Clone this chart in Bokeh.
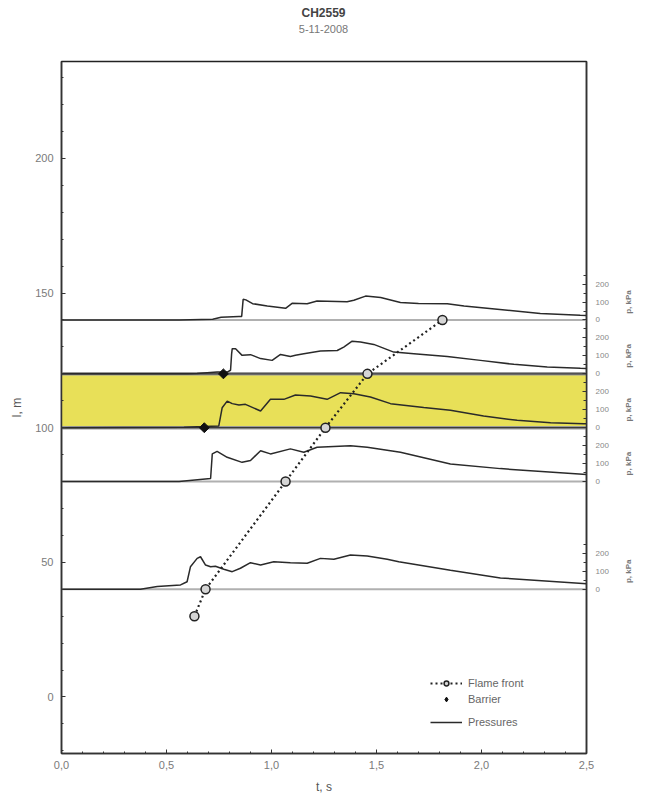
import math
from bokeh.plotting import figure
from bokeh.models import (Range1d, LinearAxis, FixedTicker, CustomJSTickFormatter,
                          Legend, LegendItem)
from bokeh.layouts import column, row
from bokeh.core.properties import value
from bokeh.embed import file_html
from bokeh.resources import INLINE

# ---------------- data ----------------
TITLE = "CH2559"
SUBTITLE = "5-11-2008"

# flame front arrival (t, s ; l, m)
FLAME_T = [0.633, 0.686, 1.067, 1.257, 1.457, 1.814]
FLAME_L = [30, 40, 80, 100, 120, 140]

# barriers
BARRIER_T = [0.68, 0.771]
BARRIER_L = [100, 120]

# yellow barrier zone (m)
ZONE_BOTTOM = 100
ZONE_TOP = 120

# pressure gauge positions (m) and pressure scale (m per kPa)
BASES = [40, 80, 100, 120, 140]
P_SCALE = 1 / 15.0
P_TICKS = [0, 100, 200]
P_MINOR = [50, 150, 250]
P_LABEL = "p, kPa"

# pressure traces, kPa
P40_T = [0, 0.376, 0.456, 0.567, 0.598, 0.614, 0.646, 0.662, 0.686, 0.71, 0.733, 0.773,
         0.813, 0.852, 0.9, 0.948, 1.011, 1.09, 1.17, 1.233, 1.297, 1.376, 1.456, 1.551,
         1.606, 1.852, 2.09, 2.5]
P40_P = [0, 0, 15, 24, 42, 125, 172, 181, 135, 125, 128, 111, 98, 117, 148, 135, 153, 148,
         145, 172, 167, 191, 185, 167, 153, 106, 63, 30]

P80_T = [0, 0.56, 0.71, 0.718, 0.741, 0.789, 0.86, 0.9, 0.948, 0.995, 1.09, 1.154, 1.217,
         1.376, 1.456, 1.614, 1.852, 2.09, 2.5]
P80_P = [0, 0, 17, 154, 168, 135, 107, 117, 172, 154, 182, 163, 191, 200, 191, 163, 98, 72, 39]

P100_T = [0, 0.583, 0.678, 0.749, 0.757, 0.765, 0.789, 0.813, 0.845, 0.876, 0.948, 0.995,
          1.059, 1.114, 1.186, 1.265, 1.329, 1.392, 1.471, 1.567, 1.725, 1.852, 2.01, 2.17,
          2.329, 2.487, 2.5]
P100_P = [0, 2, 6, 10, 60, 111, 148, 134, 126, 130, 93, 158, 158, 182, 176, 158, 195, 189,
          171, 134, 112, 97, 65, 41, 28, 22, 22]

P120_T = [0, 0.60, 0.646, 0.741, 0.789, 0.805, 0.81, 0.813, 0.829, 0.86, 0.9, 0.948, 1.003,
          1.043, 1.09, 1.114, 1.154, 1.233, 1.313, 1.344, 1.384, 1.424, 1.487, 1.582, 1.678,
          1.837, 1.995, 2.154, 2.313, 2.471, 2.5]
P120_P = [0, 0, 2, 10, 10, 20, 110, 140, 140, 103, 107, 85, 75, 108, 97, 103, 112, 127, 130,
          149, 182, 177, 164, 121, 112, 97, 75, 53, 38, 31, 30]

P140_T = [0, 0.56, 0.72, 0.76, 0.845, 0.858, 0.865, 0.878, 0.91, 0.98, 1.067, 1.098, 1.17,
          1.217, 1.36, 1.392, 1.448, 1.52, 1.614, 1.70, 1.837, 1.917, 2.075, 2.28, 2.47, 2.5]
P140_P = [0, 0, 4, 15, 20, 20, 115, 112, 91, 78, 65, 93, 91, 106, 102, 110, 133, 125, 97,
          92, 91, 78, 60, 36, 26, 25]

TRACES = [(40, P40_T, P40_P), (80, P80_T, P80_P), (100, P100_T, P100_P),
          (120, P120_T, P120_P), (140, P140_T, P140_P)]

X_MAJOR = [0, 0.5, 1.0, 1.5, 2.0, 2.5]
Y_MAJOR = [0, 50, 100, 150, 200]

FONT = "Liberation Sans"
TXT = "#7a7a7a"

# ---------------- layout geometry ----------------
TITLE_H = 36
MAIN_W, MAIN_H = 622, 761
SIDE_W = 16
BORDER_L, BORDER_R, BORDER_T, BORDER_B = 61, 36, 25, 44

# ---------------- title strip ----------------
tp = figure(width=MAIN_W + SIDE_W, height=TITLE_H, output_backend="svg",
            toolbar_location=None, x_range=Range1d(0, MAIN_W + SIDE_W),
            y_range=Range1d(TITLE_H, 0), x_axis_type=None, y_axis_type=None,
            min_border=0, outline_line_color=None)
tp.grid.visible = False
tp.text(x=[323], y=[12], text=[TITLE], text_align="center", text_baseline="middle",
        text_font=value(FONT), text_font_size="12px", text_font_style="bold",
        text_color="#444444")
tp.text(x=[323], y=[28], text=[SUBTITLE], text_align="center", text_baseline="middle",
        text_font=value(FONT), text_font_size="11px", text_color="#777777")

# ---------------- main figure ----------------
p = figure(width=MAIN_W, height=MAIN_H, output_backend="svg", toolbar_location=None,
           x_range=Range1d(0, 2.5), y_range=Range1d(-21, 236),
           min_border_left=BORDER_L, min_border_right=BORDER_R,
           min_border_top=BORDER_T, min_border_bottom=BORDER_B,
           x_axis_label="t, s", y_axis_label="l, m")
p.grid.visible = False
p.outline_line_color = "#222222"
p.outline_line_width = 1.5

for ax in (p.xaxis[0], p.yaxis[0]):
    ax.axis_line_color = "#333333"
    ax.axis_line_width = 1.5
    ax.major_tick_in = 4
    ax.major_tick_out = 0
    ax.minor_tick_in = 2
    ax.minor_tick_out = 0
    ax.major_tick_line_color = "#333333"
    ax.minor_tick_line_color = "#333333"
    ax.major_label_text_font = FONT
    ax.major_label_text_font_size = "11px"
    ax.major_label_text_color = TXT
    ax.axis_label_text_font = FONT
    ax.axis_label_text_font_size = "12px"
    ax.axis_label_text_color = "#555555"
    ax.axis_label_text_font_style = "normal"

p.xaxis[0].ticker = FixedTicker(ticks=X_MAJOR,
                                minor_ticks=[round(i * 0.1, 1) for i in range(26)])
p.xaxis[0].formatter = CustomJSTickFormatter(code="return tick.toFixed(1).replace('.', ',');")
p.xaxis[0].major_label_standoff = 7
p.xaxis[0].axis_label_standoff = 8

p.yaxis[0].ticker = FixedTicker(ticks=Y_MAJOR, minor_ticks=list(range(-20, 236, 10)))
p.yaxis[0].major_label_standoff = 8
p.yaxis[0].axis_label_standoff = 8

# right pressure axis
r_major = []
r_minor = []
for b in BASES:
    r_major += [b + v * P_SCALE for v in P_TICKS]
    r_minor += [b + v * P_SCALE for v in P_MINOR]
raxis = LinearAxis(ticker=FixedTicker(ticks=r_major, minor_ticks=r_minor))
raxis.formatter = CustomJSTickFormatter(code="""
const bases = %s; const sc = %r;
for (const b of bases) {
  const v = Math.round((tick - b) / sc);
  if (Math.abs(b + v * sc - tick) < 1e-6 && (v == 0 || v == 100 || v == 200)) return String(v);
}
return "";
""" % (str(BASES), P_SCALE))
raxis.axis_line_color = "#333333"
raxis.axis_line_width = 1.5
raxis.major_tick_in = 4
raxis.major_tick_out = 0
raxis.minor_tick_in = 3
raxis.minor_tick_out = 0
raxis.major_tick_line_color = "#333333"
raxis.minor_tick_line_color = "#333333"
raxis.major_label_text_font = FONT
raxis.major_label_text_font_size = "8px"
raxis.major_label_text_color = "#888888"
raxis.major_label_standoff = 9
p.add_layout(raxis, "right")

# yellow barrier zone
p.quad(left=0, right=2.5, bottom=ZONE_BOTTOM, top=ZONE_TOP,
       fill_color="#E8E058", line_color=None)

# baselines
for b in BASES:
    if b in (ZONE_BOTTOM, ZONE_TOP):
        p.line([0, 2.5], [b, b], line_color="#9a9a9a", line_width=3.5)
        p.line([0, 2.5], [b, b], line_color="#3a3a3a", line_width=1.3)
    else:
        p.line([0, 2.5], [b, b], line_color="#b0b0b0", line_width=2)

# pressure traces
press_renderers = []
for b, ts, ps in TRACES:
    r = p.line(ts, [b + v * P_SCALE for v in ps], line_color="#2a2a2a", line_width=1.5)
    press_renderers.append(r)

# flame front
ff_line = p.line(FLAME_T, FLAME_L, line_color="#222222", line_width=2.2, line_dash="2 3")
ff_pts = p.scatter(FLAME_T, FLAME_L, marker="circle", size=9, fill_color="#d5d5d5",
                   line_color="#222222", line_width=1.5)

# barriers (rotated square in plot; hidden diamond proxy for the legend symbol)
bar_r = p.scatter(BARRIER_T, BARRIER_L, marker="square", angle=math.pi / 4, size=7,
                  fill_color="#111111", line_color="#111111")
bar_leg = p.scatter(BARRIER_T, BARRIER_L, marker="diamond", size=12, fill_color="#111111",
                    line_color="#111111", visible=False)

leg_common = dict(background_fill_alpha=0, border_line_alpha=0, label_text_font=FONT,
                  label_text_font_size="11px", label_text_color="#666666",
                  glyph_width=32, glyph_height=12, label_height=14, spacing=2, padding=4,
                  margin=0, label_standoff=6, inactive_fill_alpha=0)
legend1 = Legend(items=[
    LegendItem(label="Flame front", renderers=[ff_line, ff_pts]),
    LegendItem(label="Barrier", renderers=[bar_leg]),
], location=(365, 43), **leg_common)
legend2 = Legend(items=[
    LegendItem(label="Pressures", renderers=[press_renderers[0]]),
], location=(365, 20), **leg_common)
p.add_layout(legend1)
p.add_layout(legend2)

# ---------------- side strip with "p, kPa" labels ----------------
sp = figure(width=SIDE_W, height=MAIN_H, output_backend="svg", toolbar_location=None,
            x_range=Range1d(0, SIDE_W), y_range=p.y_range, x_axis_type=None,
            y_axis_type=None, min_border_left=0, min_border_right=0,
            min_border_top=BORDER_T, min_border_bottom=BORDER_B, outline_line_color=None)
sp.grid.visible = False
sp.text(x=[6] * len(BASES), y=[b + 100 * P_SCALE for b in BASES], text=[P_LABEL] * len(BASES),
        angle=math.pi / 2, text_align="center", text_baseline="middle",
        text_font=value(FONT), text_font_size="8px", text_font_style="bold",
        text_color="#777777")

layout = column(tp, row(p, sp))
open("out.html", "w").write(file_html(layout, INLINE))
